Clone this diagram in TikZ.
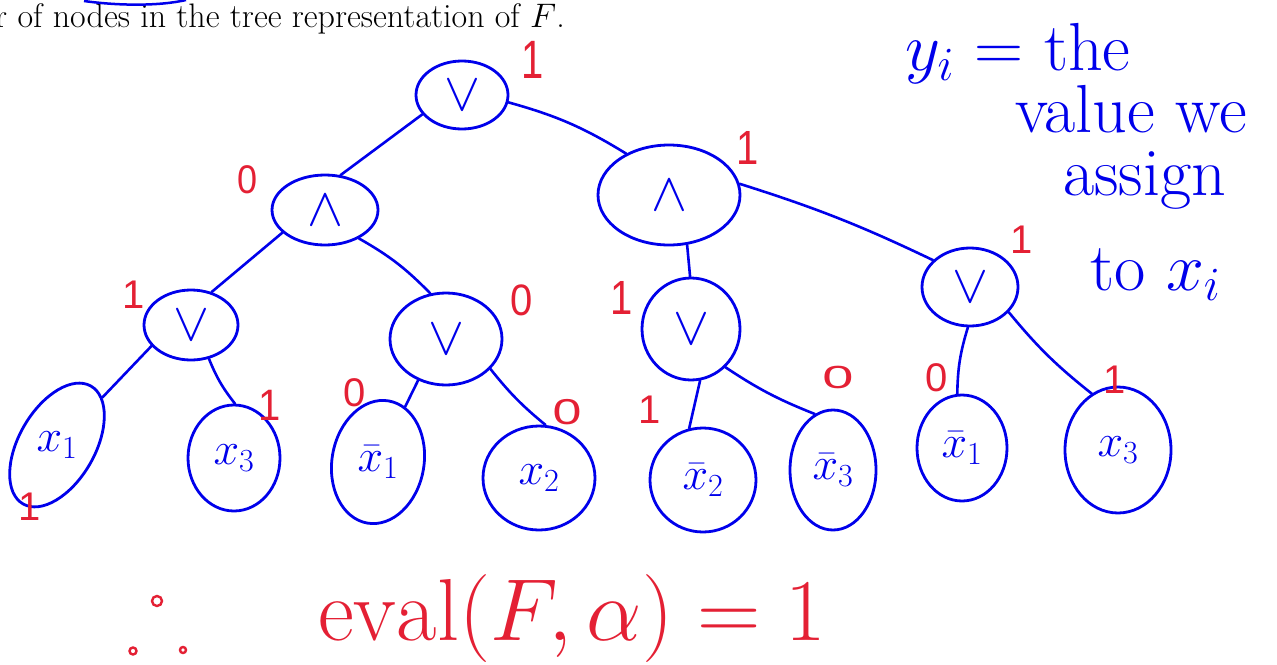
\RequirePackage{fix-cm}
\documentclass[tikz,border=0pt]{standalone}
\usepackage{fontspec}
\usetikzlibrary{shapes.geometric}
\newfontfamily\digitfont{Liberation Sans}
\definecolor{inkblue}{RGB}{0,0,235}
\definecolor{inkred}{RGB}{228,32,52}
\begin{document}
\begin{tikzpicture}[x=1pt,y=-1pt,
  gate/.style={ellipse,draw=inkblue,line width=2.8pt,inner sep=0pt,text=inkblue,font=\fontsize{54}{54}\selectfont},
  leaf/.style={ellipse,draw=inkblue,line width=2.8pt,inner sep=0pt,text=inkblue,font=\fontsize{46}{46}\selectfont},
  wire/.style={draw=inkblue,line width=2.6pt,line cap=round},
  val/.style={text=inkred,font=\digitfont\fontsize{40}{40}\selectfont,inner sep=0pt},
  note/.style={text=inkblue,font=\fontsize{68}{68}\selectfont,inner sep=0pt,anchor=base west}]
\useasboundingbox (0,0) rectangle (1277,664);
\fill[white] (0,0) rectangle (1277,664);

% caption text at top
\node[anchor=base east,font=\fontsize{34}{38}\selectfont,inner sep=0pt] (caption) at (565,27) {r of nodes in the tree representation of $F$.};
\draw[inkblue,line width=2.5pt] (84,1) .. controls (120,6) and (160,6) .. (186,0);

% gates
\node[gate,minimum width=92pt,minimum height=68pt] (root) at (462,95) {$\vee$};
\node[gate,minimum width=106pt,minimum height=70pt] (and1) at (325,210) {$\wedge$};
\node[gate,minimum width=142pt,minimum height=100pt] (and2) at (669,195) {$\wedge$};
\node[gate,minimum width=94pt,minimum height=70pt] (orA) at (191,325) {$\vee$};
\node[gate,minimum width=112pt,minimum height=92pt] (orB) at (446,339) {$\vee$};
\node[gate,minimum width=98pt,minimum height=102pt] (orC) at (691,329) {$\vee$};
\node[gate,minimum width=96pt,minimum height=78pt] (orD) at (970,287) {$\vee$};

% leaves
\node[leaf,minimum width=76pt,minimum height=136pt,rotate=-30] (l1) at (57,445) {\rotatebox{30}{$x_1$}};
\node[leaf,minimum width=92pt,minimum height=106pt] (l2) at (234,458) {$x_3$};
\node[leaf,minimum width=92pt,minimum height=124pt,rotate=-10] (l3) at (378,462) {\rotatebox{10}{$\bar{x}_1$}};
\node[leaf,minimum width=112pt,minimum height=104pt] (l4) at (539,478) {$x_2$};
\node[leaf,minimum width=106pt,minimum height=104pt] (l5) at (703,480) {$\bar{x}_2$};
\node[leaf,minimum width=86pt,minimum height=120pt] (l6) at (833,470) {$\bar{x}_3$};
\node[leaf,minimum width=90pt,minimum height=106pt] (l7) at (962,448) {$\bar{x}_1$};
\node[leaf,minimum width=106pt,minimum height=126pt] (l8) at (1118,450) {$x_3$};

% connectors
\draw[wire] (root.206) -- (and1.66);
\draw[wire] (root.351) to[bend left=8] (and2.136);
\draw[wire] (and1.208) -- (orA.58);
\draw[wire] (and1.320) to[bend left=8] (orB.109);
\draw[wire] (and2.290) -- (orC.91);
\draw[wire] (and2.9) to[bend left=4] (orD.144);
\draw[wire] (orA.208) -- (l1);
\draw[wire] (orA.298) to[bend right=8] (l2.89);
\draw[wire] (orB.236) -- (l3);
\draw[wire] (orB.326) to[bend right=6] (l4.83);
\draw[wire] (orC.280) -- (l5.105);
\draw[wire] (orC.312) to[bend right=6] (l6.108);
\draw[wire] (orD.267) to[bend right=8] (l7.95);
\draw[wire] (orD.327) to[bend right=6] (l8.115);

% red values
\node[val,yscale=1.35] (v0) at (533,60) {1};
\node[val,xscale=0.9] (v1) at (248,180) {0};
\node[val,yscale=1.2] (v2) at (748,148) {1};
\node[val] (v3) at (134,295) {1};
\node[val,yscale=1.1] (v4) at (522,300) {0};
\node[val,yscale=1.2] (v5) at (622,298) {1};
\node[val] (v6) at (1022,240) {1};
\node[val] (v7) at (30,507) {1};
\node[val,yscale=1.1] (v8) at (270,405) {1};
\node[val] (v9) at (355,393) {0};
\node[val,xscale=1.3,yscale=0.9] (v10) at (567,412) {0};
\node[val] (v11) at (650,410) {1};
\node[val,xscale=1.4,yscale=0.8] (v12) at (838,377) {0};
\node[val] (v13) at (937,378) {0};
\node[val] (v14) at (1115,380) {1};

% handwritten note
\node[note] (n1) at (905,70) {$y_i$ = the};
\node[note] (n2) at (1015,132) {value we};
\node[note] (n3) at (1063,195) {assign};
\node[note] (n4) at (1090,290) {to $x_i$};

% conclusion
\draw[inkred,line width=2.4pt] (157,601) circle (5pt) (133,651) circle (3.5pt) (183,650) circle (3pt);
\node[anchor=base west,text=inkred,font=\fontsize{88}{88}\selectfont,inner sep=0pt] (concl) at (318,640) {$\mathrm{eval}(F,\alpha)=1$};
\end{tikzpicture}
\end{document}
